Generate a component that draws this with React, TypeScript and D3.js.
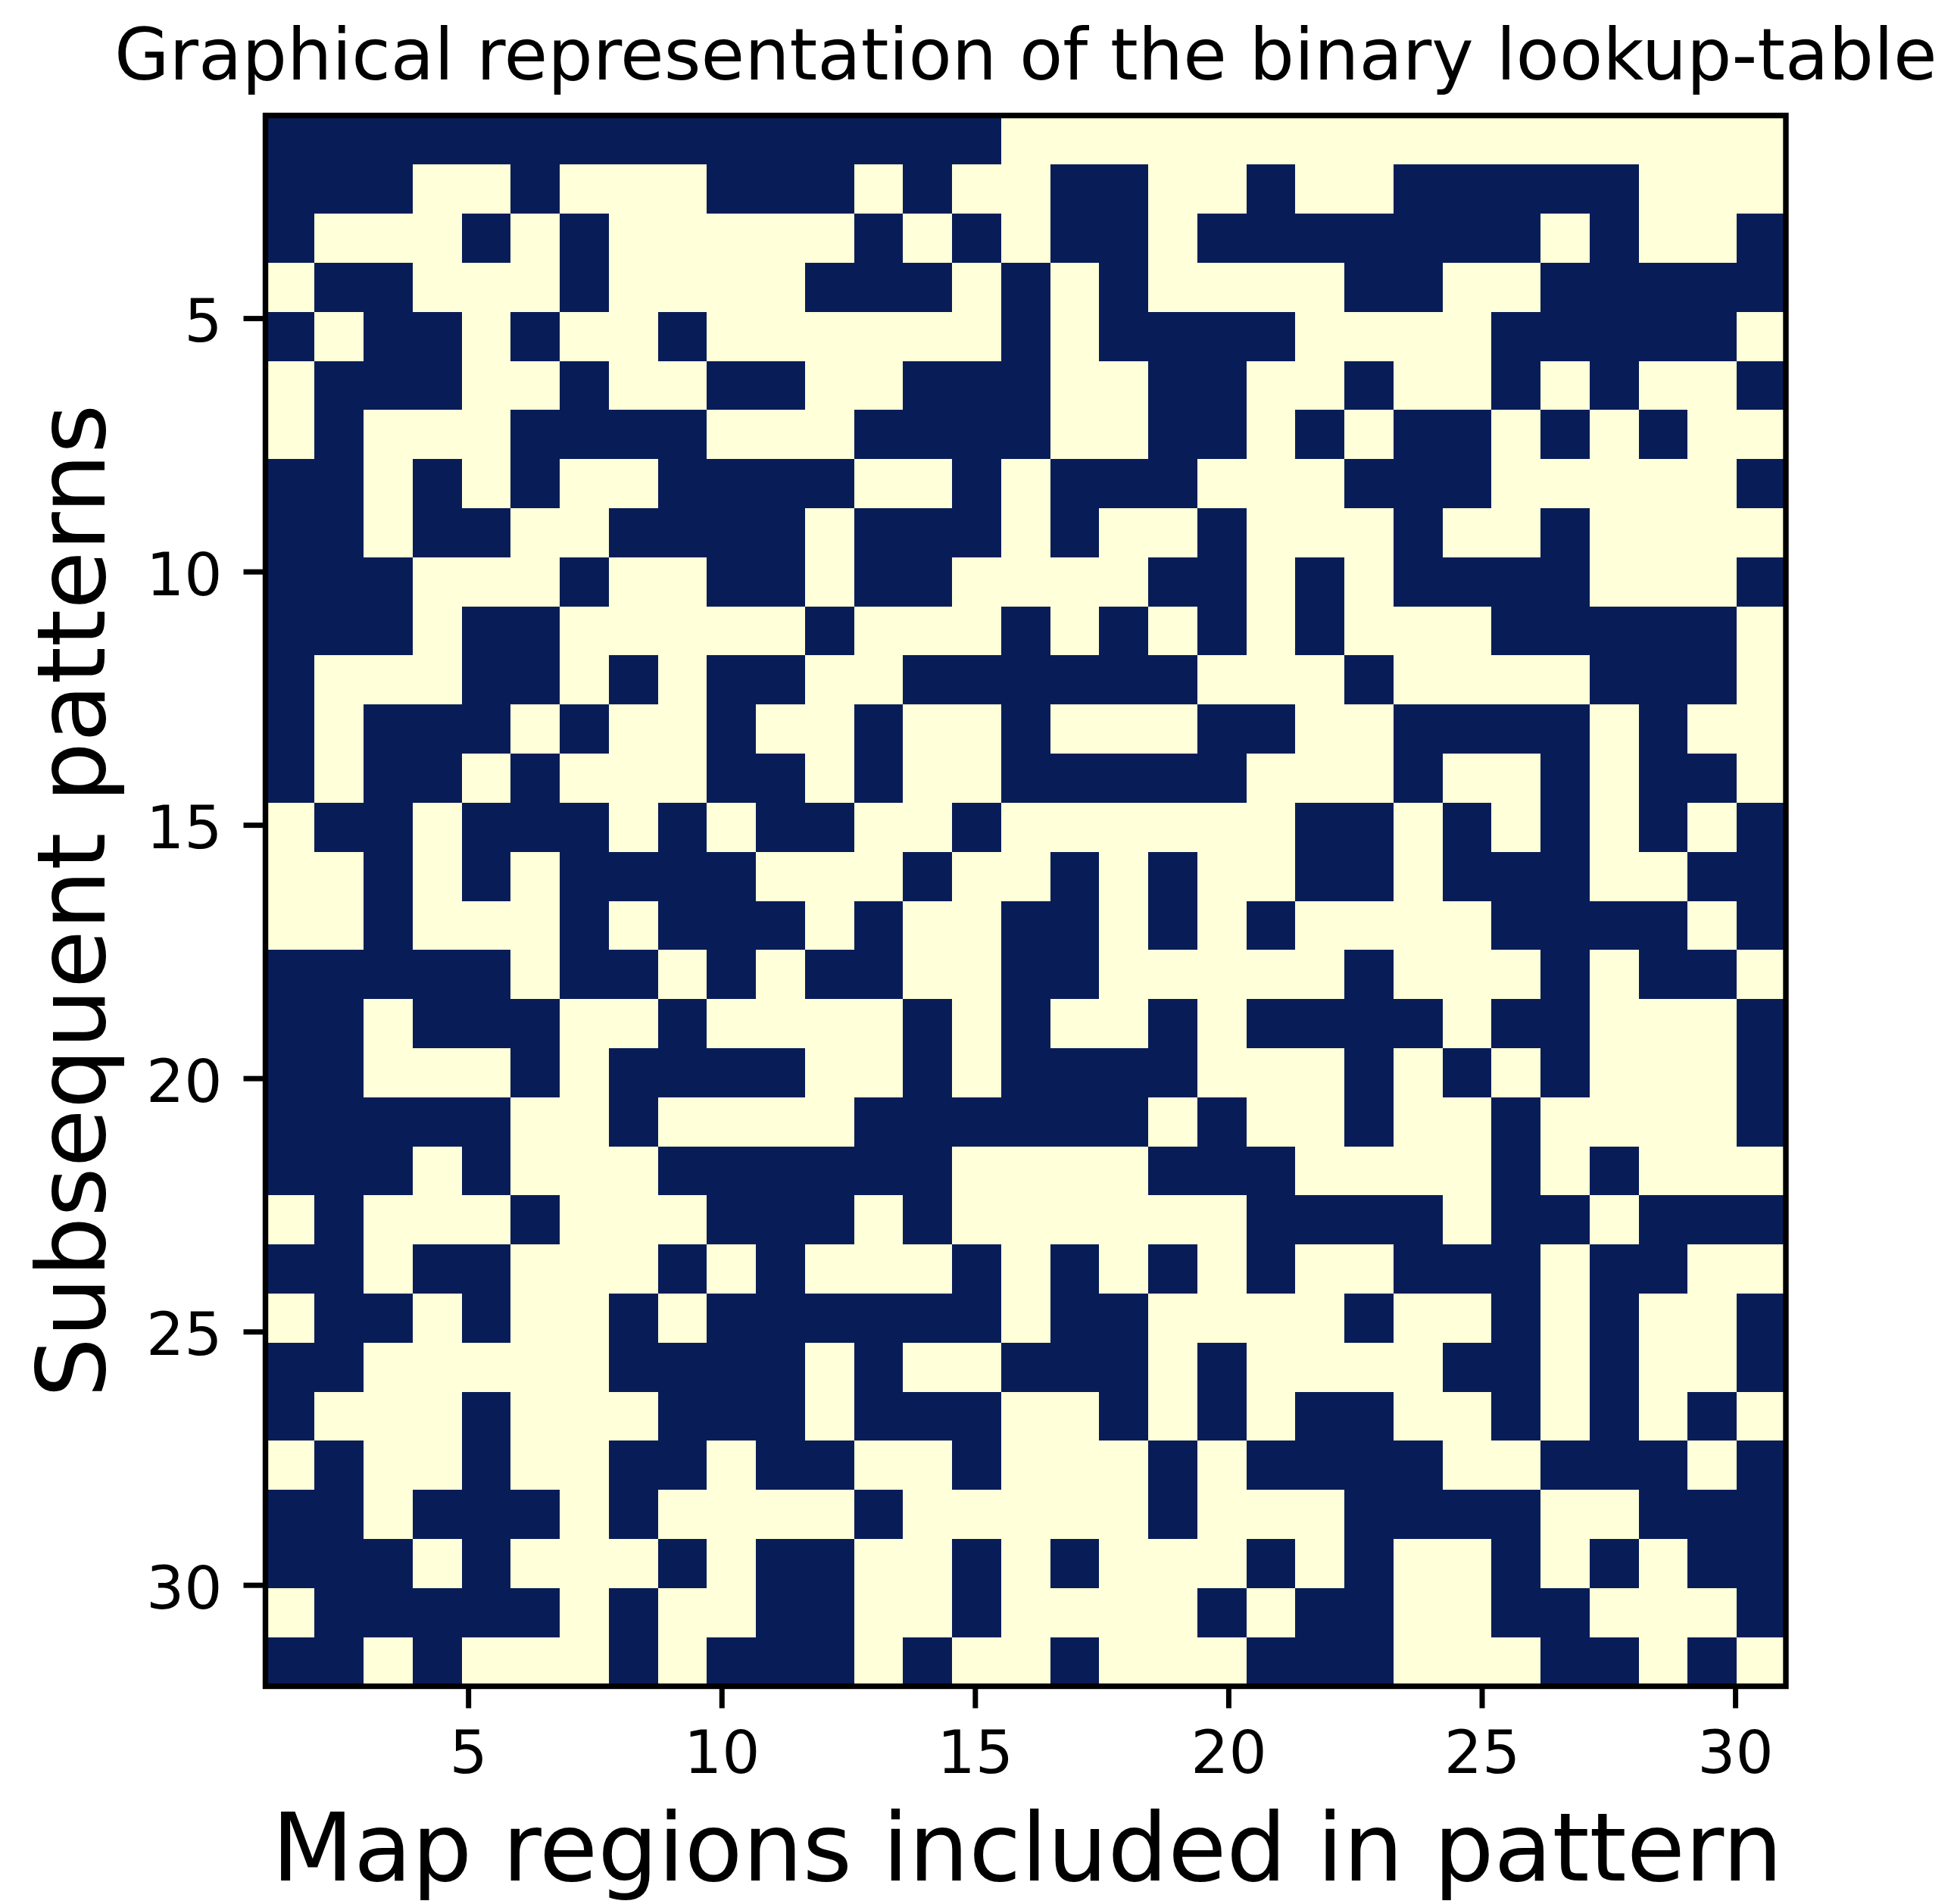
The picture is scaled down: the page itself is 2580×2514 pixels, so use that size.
import React, { useEffect, useRef } from 'react';
import * as d3 from 'd3';

// lookup table: 1 = dark, 0 = light, one string per pattern
const lookup = [
  '1111111111 1111100000 00000000000',
  '1110010001 1101001100 10011111000',
  '1000101000 0010101101 11111101001',
  '0110001000 0111010100 00110011111',
  '1011010010 0000010111 10000111110',
  '0111001001 1001110011 00100101001',
  '0100011110 0011110011 01011010100',
  '1101010011 1100101110 00111000001',
  '1101100111 1011101001 00010010000',
  '1110001001 1011000011 01011110001',
  '1110110000 0100010101 01000111110',
  '1000110101 1001111110 00100001110',
  '1011101001 0010010001 10011110100',
  '1011010001 1010011111 00010010110',
  '0110111010 1100100000 01101010101',
  '0010101111 0001001010 01101110011',
  '0010001011 1010011010 10000111101',
  '1111101101 0110011000 00100010110',
  '1101110010 0001010010 11110110001',
  '1100010111 1001011110 00101010001',
  '1111100100 0011111101 00100100001',
  '1110100011 1111000011 10000101000',
  '0100010001 1101000000 11110110111',
  '1101100010 1000101010 10011101100',
  '0110100101 1111101100 00100101001',
  '1100000111 1010011101 00001101001',
  '1000100011 1011100101 01100101010',
  '0100100110 1100100010 11110011101',
  '1101110100 0010000010 00111100111',
  '1110100010 1100101000 10100101011',
  '0111110100 1100100001 01100110001',
  '1101000101 1101001000 11100011010',
];
const xTicks = [5, 10, 15, 20, 25, 30];
const yTicks = [5, 10, 15, 20, 25, 30];
const titleText = 'Graphical representation of the binary lookup-table';
const xLabel = 'Map regions included in pattern';
const yLabel = 'Subsequent patterns';

const W = 2580;
const H = 2514;
const FONT = '"DejaVu Sans", sans-serif';

const App = () => {
  const svgRef = useRef<SVGSVGElement>(null);

  useEffect(() => {
    const svg = d3.select(svgRef.current);
    svg.selectAll('*').remove();

    const left = 350.5, right = 2358, top = 152.5, bottom = 2226.5;
    const x = d3.scaleLinear().domain([1, 31]).range([left, right]);
    const y = d3.scaleLinear().domain([1, 32]).range([top, bottom]);

    const grid = lookup.map(r => r.replace(/ /g, ''));
    const color = d3.scaleOrdinal<string>().domain(['0', '1']).range(['#ffffd9', '#081d58']);
    const col = d3.scaleBand<number>().domain(d3.range(grid[0].length)).range([left, right]);
    const row = d3.scaleBand<number>().domain(d3.range(grid.length)).range([top, bottom]);

    svg.append('rect').attr('width', W).attr('height', H).attr('fill', '#fff');

    svg.append('g')
      .selectAll('g')
      .data(grid)
      .join('g')
      .each(function (line, r) {
        d3.select(this)
          .selectAll('rect')
          .data(line.split(''))
          .join('rect')
          .attr('x', (_, c) => col(c)!)
          .attr('y', row(r)!)
          .attr('width', col.bandwidth())
          .attr('height', row.bandwidth())
          .attr('fill', d => color(d))
          .attr('shape-rendering', 'crispEdges');
      });

    // Axes styling
    const gx = svg.append('g')
      .attr('transform', `translate(0,${bottom})`)
      .call(d3.axisBottom(x).tickValues(xTicks).tickSize(29).tickPadding(29.5).tickSizeOuter(0));
    const gy = svg.append('g')
      .attr('transform', `translate(${left},0)`)
      .call(d3.axisLeft(y).tickValues(yTicks).tickSize(29).tickPadding(28).tickSizeOuter(0));

    [gx, gy].forEach(g => {
      g.select('.domain').remove();
      g.selectAll('line').attr('stroke', '#000').attr('stroke-width', 7);
      g.selectAll('text')
        .attr('fill', '#000')
        .style('font-family', FONT)
        .style('font-size', '79px');
    });
    gy.selectAll('text').attr('dy', '0.385em');

    svg.append('rect')
      .attr('x', left).attr('y', top)
      .attr('width', right - left).attr('height', bottom - top)
      .attr('fill', 'none').attr('stroke', '#000').attr('stroke-width', 7.4);

    svg.append('text')
      .attr('x', (left + right) / 2).attr('y', 105)
      .attr('text-anchor', 'middle')
      .style('font-family', FONT).style('font-size', '93.7px')
      .text(titleText);

    svg.append('text')
      .attr('x', (left + right) / 2 + 2).attr('y', 2483)
      .attr('text-anchor', 'middle')
      .style('font-family', FONT).style('font-size', '125.4px')
      .text(xLabel);

    svg.append('text')
      .attr('transform', `translate(138,${(top + bottom) / 2}) rotate(-90)`)
      .attr('text-anchor', 'middle')
      .style('font-family', FONT).style('font-size', '125.4px')
      .text(yLabel);
  }, []);

  return (
    <svg ref={svgRef} width={W} height={H} style={{ position: 'absolute', left: 0, top: 0, display: 'block' }} />
  );
};

export default App;
